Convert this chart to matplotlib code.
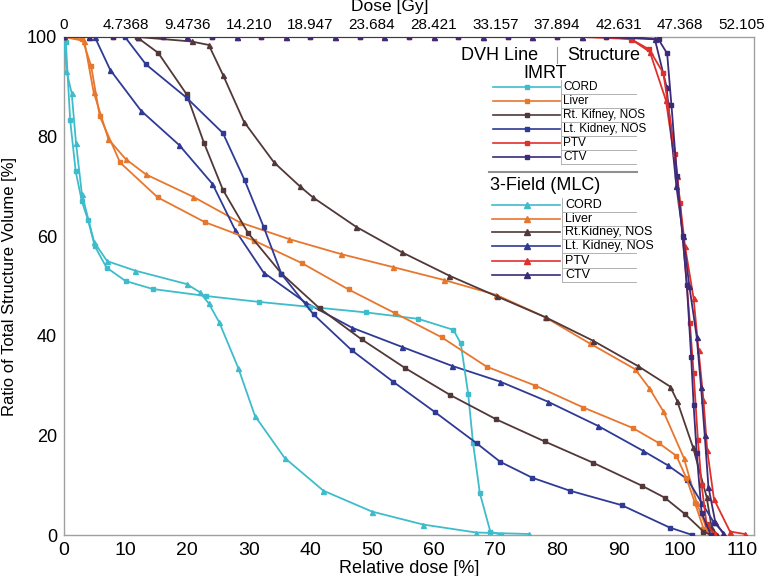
import matplotlib
matplotlib.use("Agg")
import matplotlib.pyplot as plt
from matplotlib import font_manager
from matplotlib.lines import Line2D

plt.rcParams['font.family'] = ['Liberation Sans', 'DejaVu Sans']
names = {f.name for f in font_manager.fontManager.ttflist}
NARROW = 'Liberation Sans Narrow' if 'Liberation Sans Narrow' in names else 'Liberation Sans'

# ---------------- data ----------------
rel_ticks = [0, 10, 20, 30, 40, 50, 60, 70, 80, 90, 100, 110]
dose_labels = ["0", "4.7368", "9.4736", "14.210", "18.947", "23.684", "28.421",
               "33.157", "37.894", "42.631", "47.368", "52.105"]
y_ticks = [0, 20, 40, 60, 80, 100]

structures = ["CORD", "Liver", "Rt. Kidney", "Lt. Kidney", "PTV", "CTV"]
imrt_labels = ["CORD", "Liver", "Rt. Kifney, NOS", "Lt. Kidney, NOS", "PTV", "CTV"]
mlc_labels = ["CORD", "Liver", "Rt.Kidney, NOS", "Lt. Kidney, NOS", "PTV", "CTV"]
colors = ["#3fbccb", "#e8772e", "#523838", "#2f3a94", "#e0302c", "#3b2b78"]

# IMRT (square markers)
imrt_cord_x = [0, 0.3, 1.0, 1.9, 2.9, 3.9, 5.0, 6.9, 10, 14.4, 23, 31.7, 40, 49, 57.5, 63.2, 64.4, 65.6, 66.4, 67.5, 69.2, 71]
imrt_cord_y = [100, 98.9, 83.3, 73, 67, 63.2, 58, 53.7, 51, 49.4, 48, 46.8, 45.8, 44.7, 43.4, 41.2, 38.5, 28.4, 18.4, 8.4, 0.7, 0]
imrt_liver_x = [0, 3.0, 4.4, 5.8, 9.1, 15.2, 22.9, 30.9, 38.6, 46.2, 53.8, 61.3, 68.6, 76.5, 84.3, 92.3, 96.5, 99.4, 101, 102.4, 103.8, 105]
imrt_liver_y = [100, 99.5, 94.2, 84.1, 74.8, 67.8, 62.8, 59.1, 54.6, 49.3, 44.5, 39.7, 33.8, 30.0, 25.6, 21.5, 18.5, 15.9, 11.5, 6.5, 1.3, 0]
imrt_rk_x = [0, 11.8, 15.3, 19.9, 22.7, 25.8, 29.9, 35.3, 41.5, 48.3, 55.4, 62.7, 70.2, 78, 85.9, 93.8, 97.5, 100.8, 103.8, 105]
imrt_rk_y = [100, 100, 96.8, 88.5, 78.8, 69.3, 60.6, 52.5, 45.5, 39.3, 33.5, 28.1, 23.2, 18.8, 14.5, 9.9, 7.5, 4.2, 0.7, 0]
imrt_lk_x = [0, 9.9, 13.3, 19.9, 25.8, 29.3, 32.4, 35.3, 40.5, 46.7, 53.4, 60.3, 67, 70.8, 76, 82.1, 90.5, 98.3, 102]
imrt_lk_y = [100, 100, 94.5, 87.8, 80.7, 71.3, 61.9, 52.4, 44.3, 37.1, 30.8, 24.6, 18.4, 14.7, 11.5, 8.9, 6, 1.5, 0]
imrt_ptv_x = [0, 8, 16, 24, 32, 40, 48, 56, 64, 72, 80, 88, 92, 95, 97.3, 99.2, 100, 101.6, 102.2, 102.9, 103.5, 104.3, 105.5]
imrt_ptv_y = [100, 100, 100, 100, 100, 100, 100, 100, 100, 100, 100, 100, 99.6, 97.5, 92.7, 76.6, 66.6, 42.5, 32.5, 19, 10, 2.2, 0.3]
imrt_ctv_x = [0, 8, 16, 24, 32, 40, 48, 56, 64, 72, 80, 88, 96.5, 97.9, 98.6, 99.5, 100.4, 101.1, 101.8, 102.2, 102.7, 103.5, 105]
imrt_ctv_y = [100, 100, 100, 100, 100, 100, 100, 100, 100, 100, 100, 100, 99.5, 96.7, 86.3, 72, 60, 50.2, 35.8, 26.1, 16.4, 4.4, 0]

# 3-Field MLC (triangle markers)
mlc_cord_x = [0, 0.4, 1.25, 1.95, 2.9, 4.9, 7, 11.5, 19.9, 22, 23.5, 25.2, 28.3, 31, 35.8, 42.1, 50, 58.3, 66.9, 75.5]
mlc_cord_y = [100, 93.2, 88.7, 78.7, 68.5, 58.8, 55, 53.1, 50.4, 48.8, 46.5, 42.7, 33.5, 23.9, 15.5, 8.9, 4.7, 2.1, 0.5, 0.2]
mlc_liver_x = [0, 3.3, 4.8, 7.2, 10, 13.3, 21, 28.5, 36.6, 45, 53.4, 61.7, 70.2, 78, 85.3, 92.7, 95, 97.3, 100.6, 102.7, 104.3, 106]
mlc_liver_y = [100, 99.2, 89, 79.5, 75.5, 72.4, 67.9, 62.8, 59.4, 56.4, 53.8, 51.2, 48.2, 43.8, 38.5, 33.3, 29.5, 24.8, 15.5, 6.5, 1.3, 0]
mlc_rk_x = [0, 12, 20.7, 23.5, 25.8, 29.2, 34.1, 38.3, 40.4, 47.4, 54.8, 62.5, 70.3, 78.2, 85.9, 93.2, 98.4, 99.5, 102.1, 104.3, 105.1, 106]
mlc_rk_y = [100, 100, 99.1, 98.4, 92.4, 83, 74.8, 70, 67.8, 61.9, 56.8, 52.1, 47.9, 43.7, 39, 33.9, 29.8, 27, 17.6, 7.7, 1.7, 0]
mlc_lk_x = [0, 5, 7.5, 12.5, 18.7, 24.1, 27.8, 32.4, 39.3, 46.8, 54.8, 62.9, 70.8, 78.5, 86.7, 94, 98, 101.2, 103.5, 105.4, 107]
mlc_lk_y = [100, 100, 93.4, 85.2, 78.3, 70.5, 61.2, 52.7, 46.6, 41.6, 37.8, 34, 30.8, 26.8, 21.9, 16.9, 14.0, 11.2, 6.5, 2.7, 0.5]
mlc_ptv_x = [4, 12, 20, 28, 36, 44, 52, 60, 68, 76, 84, 92, 95.1, 97.7, 99.5, 100.8, 102.2, 103, 103.8, 104.4, 105.5, 108.1, 110.5]
mlc_ptv_y = [100, 100, 100, 100, 100, 100, 100, 100, 100, 100, 100, 99.6, 97, 87.3, 72, 58, 47.5, 37.1, 27.1, 17.1, 7.2, 0.7, 0.2]
mlc_ctv_x = [4, 12, 20, 28, 36, 44, 52, 60, 68, 76, 84, 92, 95.9, 97.8, 99.4, 100.5, 101.5, 102.7, 103.4, 104, 104.6, 105.7, 107]
mlc_ctv_y = [100, 100, 100, 100, 100, 100, 100, 100, 100, 100, 100, 100, 99.6, 90, 70, 60, 50, 39.8, 29.8, 20.1, 9.7, 2.7, 0.3]

imrt_series = [(imrt_cord_x, imrt_cord_y), (imrt_liver_x, imrt_liver_y), (imrt_rk_x, imrt_rk_y),
               (imrt_lk_x, imrt_lk_y), (imrt_ptv_x, imrt_ptv_y), (imrt_ctv_x, imrt_ctv_y)]
mlc_series = [(mlc_cord_x, mlc_cord_y), (mlc_liver_x, mlc_liver_y), (mlc_rk_x, mlc_rk_y),
              (mlc_lk_x, mlc_lk_y), (mlc_ptv_x, mlc_ptv_y), (mlc_ctv_x, mlc_ctv_y)]

# ---------------- figure ----------------
fig = plt.figure(figsize=(7.79, 5.76), dpi=100)
ax = fig.add_axes([64/779, 1-535/576, 690/779, 498/576])

for (x, y), c in zip(mlc_series, colors):
    ax.plot(x, y, color=c, lw=1.3, marker='^', ms=3.6, mec=c, mfc=c, zorder=3)
for (x, y), c in zip(imrt_series, colors):
    ax.plot(x, y, color=c, lw=1.3, marker='s', ms=2.6, mec=c, mfc=c, zorder=4)

ax.set_xlim(0, 112)
ax.set_ylim(0, 100)
ax.set_xticks(rel_ticks)
ax.set_xticklabels([str(t) for t in rel_ticks], family=NARROW, fontsize=14)
ax.set_yticks(y_ticks)
ax.set_yticklabels([str(t) for t in y_ticks], fontsize=13)
ax.tick_params(axis='both', length=0, pad=5)
for s in ax.spines.values():
    s.set_color('#a0a0a0')
    s.set_linewidth(1.0)
ax.set_xlabel("Relative dose [%]", fontsize=13, family=NARROW, labelpad=1)
ax.set_ylabel("Ratio of Total Structure Volume [%]", fontsize=12, labelpad=7)

top = ax.twiny()
top.set_xlim(ax.get_xlim())
top.set_xticks(rel_ticks)
top.set_xticklabels(dose_labels, fontsize=11)
top.tick_params(axis='x', length=0, pad=3.5)
for s in top.spines.values():
    s.set_visible(False)
fig.text(390/779, 1 - 7/576, "Dose [Gy]", ha='center', va='center', fontsize=12.5)

# ---------------- legend (table style) ----------------
def fx(px):
    return (px - 64) / 690.0

def fy(py):
    return (535 - py) / 498.0

T = ax.transAxes
ax.text(fx(500), fy(55), "DVH Line", transform=T, ha='center', va='center', fontsize=13)
ax.text(fx(604), fy(55), "Structure", transform=T, ha='center', va='center', fontsize=13)
ax.add_line(Line2D([fx(557), fx(557)], [fy(47), fy(63)], transform=T, color='#999999', lw=0.8))
ax.text(fx(545), fy(73), "IMRT", transform=T, ha='center', va='center', fontsize=13)

imrt_rows = [87, 101, 115, 129, 143, 157]
for py, lab, c in zip(imrt_rows, imrt_labels, colors):
    ax.add_line(Line2D([fx(493), fx(560)], [fy(py), fy(py)], transform=T, color=c, lw=1.2))
    ax.add_line(Line2D([fx(527)], [fy(py)], transform=T, color=c, marker='s', ms=2.8, ls='none'))
    ax.text(fx(563), fy(py), lab, transform=T, ha='left', va='center', fontsize=8.5)
    ax.add_line(Line2D([fx(561), fx(636)], [fy(py + 7), fy(py + 7)], transform=T, color='#b0b0b0', lw=0.7))
ax.add_line(Line2D([fx(561), fx(561)], [fy(80), fy(164)], transform=T, color='#b0b0b0', lw=0.7))

ax.add_line(Line2D([fx(489), fx(637)], [fy(172), fy(172)], transform=T, color='#909090', lw=1.5))
ax.text(fx(545), fy(186), "3-Field (MLC)", transform=T, ha='center', va='center', fontsize=13)

mlc_rows = [205, 219, 232, 246, 261, 275]
for py, lab, c in zip(mlc_rows, mlc_labels, colors):
    ax.add_line(Line2D([fx(492), fx(560)], [fy(py), fy(py)], transform=T, color=c, lw=1.2))
    ax.add_line(Line2D([fx(527)], [fy(py)], transform=T, color=c, marker='^', ms=4.0, ls='none'))
    ax.text(fx(565), fy(py), lab, transform=T, ha='left', va='center', fontsize=9)
    ax.add_line(Line2D([fx(562), fx(636)], [fy(py + 7), fy(py + 7)], transform=T, color='#b0b0b0', lw=0.7))
ax.add_line(Line2D([fx(562), fx(562)], [fy(198), fy(282)], transform=T, color='#b0b0b0', lw=0.7))

fig.savefig("out.png", dpi=100)
